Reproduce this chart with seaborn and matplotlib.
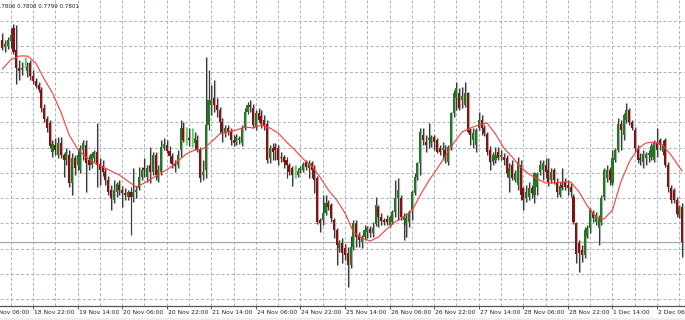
import numpy as np
import pandas as pd
import matplotlib
matplotlib.use("Agg")
import matplotlib.pyplot as plt
from matplotlib.patches import Rectangle
import seaborn as sns

# ---------------- data ----------------
ohlc_text = "0.7806 0.7808 0.7799 0.7801"

tick_labels = ["18 Nov 06:00", "18 Nov 22:00", "19 Nov 14:00", "20 Nov 06:00",
               "20 Nov 22:00", "21 Nov 14:00", "24 Nov 06:00", "24 Nov 22:00",
               "25 Nov 14:00", "26 Nov 06:00", "26 Nov 22:00", "27 Nov 14:00",
               "28 Nov 06:00", "28 Nov 22:00", "1 Dec 14:00", "2 Dec 06:00"]
tick_bars = [-5, 11, 27, 43, 59, 75, 91, 107, 123, 139, 155, 171, 187, 203, 219, 235]

opens = [
    0.8003, 0.7996, 0.7997, 0.8002, 0.8015, 0.7993, 0.7975, 0.7973, 0.7978, 0.7972,
    0.7980, 0.7967, 0.7962, 0.7958, 0.7953, 0.7935, 0.7924, 0.7920, 0.7891, 0.7898,
    0.7888, 0.7900, 0.7888, 0.7883, 0.7888, 0.7860, 0.7885, 0.7878, 0.7873, 0.7893,
    0.7898, 0.7883, 0.7878, 0.7885, 0.7891, 0.7879, 0.7877, 0.7871, 0.7863, 0.7853,
    0.7843, 0.7851, 0.7858, 0.7853, 0.7850, 0.7846, 0.7851, 0.7846, 0.7851, 0.7855,
    0.7866, 0.7875, 0.7866, 0.7878, 0.7871, 0.7888, 0.7865, 0.7871, 0.7895, 0.7898,
    0.7892, 0.7887, 0.7879, 0.7878, 0.7893, 0.7915, 0.7908, 0.7905, 0.7906, 0.7900,
    0.7903, 0.7893, 0.7868, 0.7873, 0.7918, 0.7938, 0.7945, 0.7938, 0.7933, 0.7921,
    0.7910, 0.7915, 0.7911, 0.7903, 0.7901, 0.7903, 0.7900, 0.7915, 0.7931, 0.7938,
    0.7935, 0.7916, 0.7930, 0.7927, 0.7923, 0.7919, 0.7885, 0.7895, 0.7896, 0.7895,
    0.7885, 0.7886, 0.7883, 0.7878, 0.7875, 0.7873, 0.7868, 0.7873, 0.7873, 0.7881,
    0.7875, 0.7880, 0.7875, 0.7865, 0.7823, 0.7823, 0.7830, 0.7840, 0.7838, 0.7823,
    0.7813, 0.7795, 0.7800, 0.7795, 0.7790, 0.7778, 0.7796, 0.7820, 0.7808, 0.7801,
    0.7806, 0.7811, 0.7814, 0.7810, 0.7819, 0.7836, 0.7826, 0.7823, 0.7824, 0.7818,
    0.7821, 0.7831, 0.7845, 0.7845, 0.7823, 0.7818, 0.7821, 0.7833, 0.7850, 0.7866,
    0.7880, 0.7908, 0.7901, 0.7903, 0.7900, 0.7906, 0.7903, 0.7895, 0.7893, 0.7893,
    0.7881, 0.7896, 0.7930, 0.7945, 0.7950, 0.7943, 0.7938, 0.7950, 0.7913, 0.7903,
    0.7898, 0.7915, 0.7923, 0.7915, 0.7909, 0.7893, 0.7881, 0.7883, 0.7891, 0.7886,
    0.7886, 0.7885, 0.7865, 0.7878, 0.7863, 0.7858, 0.7878, 0.7855, 0.7845, 0.7846,
    0.7855, 0.7848, 0.7856, 0.7871, 0.7873, 0.7878, 0.7873, 0.7863, 0.7873, 0.7861,
    0.7848, 0.7858, 0.7861, 0.7858, 0.7856, 0.7846, 0.7820, 0.7800, 0.7793, 0.7788,
    0.7807, 0.7815, 0.7830, 0.7821, 0.7815, 0.7821, 0.7846, 0.7865, 0.7873, 0.7860,
    0.7883, 0.7893, 0.7919, 0.7908, 0.7923, 0.7933, 0.7921, 0.7913, 0.7895, 0.7885,
    0.7881, 0.7885, 0.7888, 0.7886, 0.7883, 0.7900, 0.7903, 0.7891, 0.7903, 0.7878,
    0.7855, 0.7853, 0.7843, 0.7828, 0.7836]

highs = [
    0.8010, 0.8003, 0.8006, 0.8015, 0.8019, 0.8018, 0.7983, 0.7981, 0.7986, 0.7981,
    0.7983, 0.7973, 0.7965, 0.7961, 0.7956, 0.7939, 0.7927, 0.7923, 0.7903, 0.7905,
    0.7906, 0.7906, 0.7890, 0.7895, 0.7893, 0.7890, 0.7888, 0.7893, 0.7898, 0.7903,
    0.7903, 0.7888, 0.7891, 0.7893, 0.7920, 0.7885, 0.7883, 0.7875, 0.7867, 0.7858,
    0.7863, 0.7861, 0.7863, 0.7857, 0.7855, 0.7853, 0.7856, 0.7875, 0.7857, 0.7876,
    0.7876, 0.7885, 0.7878, 0.7896, 0.7891, 0.7891, 0.7878, 0.7903, 0.7905, 0.7903,
    0.7897, 0.7890, 0.7883, 0.7893, 0.7923, 0.7921, 0.7916, 0.7915, 0.7915, 0.7911,
    0.7908, 0.7896, 0.7883, 0.7986, 0.7973, 0.7958, 0.7963, 0.7945, 0.7936, 0.7925,
    0.7918, 0.7918, 0.7915, 0.7908, 0.7909, 0.7907, 0.7918, 0.7935, 0.7941, 0.7943,
    0.7939, 0.7933, 0.7935, 0.7933, 0.7928, 0.7923, 0.7898, 0.7900, 0.7900, 0.7898,
    0.7891, 0.7888, 0.7886, 0.7880, 0.7877, 0.7878, 0.7875, 0.7877, 0.7881, 0.7883,
    0.7883, 0.7882, 0.7878, 0.7867, 0.7825, 0.7848, 0.7848, 0.7843, 0.7840, 0.7825,
    0.7815, 0.7803, 0.7805, 0.7799, 0.7796, 0.7807, 0.7823, 0.7823, 0.7811, 0.7808,
    0.7818, 0.7817, 0.7817, 0.7821, 0.7846, 0.7838, 0.7830, 0.7825, 0.7828, 0.7828,
    0.7833, 0.7863, 0.7865, 0.7848, 0.7830, 0.7830, 0.7833, 0.7853, 0.7870, 0.7881,
    0.7915, 0.7915, 0.7908, 0.7920, 0.7908, 0.7908, 0.7905, 0.7898, 0.7901, 0.7898,
    0.7898, 0.7931, 0.7953, 0.7961, 0.7955, 0.7956, 0.7961, 0.7951, 0.7915, 0.7915,
    0.7915, 0.7931, 0.7928, 0.7918, 0.7911, 0.7897, 0.7891, 0.7896, 0.7896, 0.7893,
    0.7890, 0.7888, 0.7880, 0.7883, 0.7873, 0.7886, 0.7883, 0.7856, 0.7858, 0.7861,
    0.7858, 0.7871, 0.7871, 0.7883, 0.7883, 0.7885, 0.7885, 0.7875, 0.7875, 0.7865,
    0.7861, 0.7875, 0.7865, 0.7863, 0.7860, 0.7849, 0.7821, 0.7803, 0.7798, 0.7816,
    0.7818, 0.7835, 0.7833, 0.7831, 0.7828, 0.7848, 0.7875, 0.7878, 0.7876, 0.7893,
    0.7895, 0.7925, 0.7923, 0.7930, 0.7940, 0.7935, 0.7923, 0.7916, 0.7898, 0.7890,
    0.7893, 0.7891, 0.7893, 0.7900, 0.7903, 0.7915, 0.7905, 0.7903, 0.7905, 0.7881,
    0.7858, 0.7855, 0.7846, 0.7838, 0.7840]

lows = [
    0.7993, 0.7991, 0.7994, 0.7995, 0.7989, 0.7959, 0.7963, 0.7968, 0.7975, 0.7966,
    0.7963, 0.7959, 0.7955, 0.7951, 0.7931, 0.7921, 0.7911, 0.7895, 0.7886, 0.7888,
    0.7885, 0.7885, 0.7866, 0.7878, 0.7856, 0.7848, 0.7868, 0.7873, 0.7870, 0.7883,
    0.7851, 0.7873, 0.7875, 0.7881, 0.7856, 0.7858, 0.7867, 0.7858, 0.7848, 0.7833,
    0.7840, 0.7846, 0.7848, 0.7836, 0.7843, 0.7843, 0.7808, 0.7841, 0.7845, 0.7853,
    0.7863, 0.7866, 0.7861, 0.7860, 0.7868, 0.7863, 0.7861, 0.7868, 0.7893, 0.7890,
    0.7880, 0.7875, 0.7871, 0.7875, 0.7886, 0.7901, 0.7898, 0.7897, 0.7896, 0.7893,
    0.7891, 0.7861, 0.7863, 0.7865, 0.7913, 0.7928, 0.7931, 0.7926, 0.7910, 0.7901,
    0.7906, 0.7908, 0.7898, 0.7897, 0.7898, 0.7899, 0.7897, 0.7913, 0.7929, 0.7931,
    0.7915, 0.7913, 0.7921, 0.7915, 0.7913, 0.7880, 0.7880, 0.7883, 0.7883, 0.7878,
    0.7881, 0.7875, 0.7865, 0.7868, 0.7857, 0.7865, 0.7866, 0.7870, 0.7871, 0.7873,
    0.7865, 0.7865, 0.7850, 0.7819, 0.7811, 0.7818, 0.7828, 0.7833, 0.7821, 0.7805,
    0.7778, 0.7791, 0.7780, 0.7783, 0.7756, 0.7775, 0.7793, 0.7796, 0.7796, 0.7795,
    0.7803, 0.7805, 0.7806, 0.7806, 0.7817, 0.7816, 0.7818, 0.7818, 0.7818, 0.7816,
    0.7819, 0.7826, 0.7823, 0.7823, 0.7803, 0.7806, 0.7816, 0.7823, 0.7848, 0.7863,
    0.7868, 0.7898, 0.7891, 0.7895, 0.7896, 0.7893, 0.7890, 0.7888, 0.7883, 0.7880,
    0.7878, 0.7893, 0.7926, 0.7933, 0.7933, 0.7935, 0.7936, 0.7910, 0.7898, 0.7895,
    0.7891, 0.7913, 0.7908, 0.7907, 0.7888, 0.7873, 0.7878, 0.7880, 0.7883, 0.7883,
    0.7878, 0.7866, 0.7851, 0.7863, 0.7861, 0.7853, 0.7843, 0.7833, 0.7841, 0.7843,
    0.7845, 0.7840, 0.7848, 0.7868, 0.7863, 0.7865, 0.7857, 0.7860, 0.7859, 0.7846,
    0.7846, 0.7853, 0.7853, 0.7848, 0.7846, 0.7819, 0.7780, 0.7771, 0.7781, 0.7785,
    0.7805, 0.7810, 0.7821, 0.7818, 0.7798, 0.7818, 0.7843, 0.7861, 0.7858, 0.7858,
    0.7881, 0.7891, 0.7893, 0.7903, 0.7920, 0.7918, 0.7913, 0.7891, 0.7880, 0.7878,
    0.7875, 0.7878, 0.7881, 0.7883, 0.7881, 0.7886, 0.7893, 0.7888, 0.7876, 0.7851,
    0.7840, 0.7840, 0.7826, 0.7825, 0.7786]

closes = [
    0.7995, 0.7999, 0.8003, 0.8008, 0.7991, 0.7975, 0.7972, 0.7975, 0.7978, 0.7976,
    0.7967, 0.7962, 0.7957, 0.7953, 0.7935, 0.7924, 0.7915, 0.7897, 0.7899, 0.7893,
    0.7900, 0.7888, 0.7883, 0.7891, 0.7860, 0.7885, 0.7875, 0.7888, 0.7895, 0.7900,
    0.7880, 0.7878, 0.7889, 0.7891, 0.7878, 0.7873, 0.7871, 0.7863, 0.7851, 0.7845,
    0.7853, 0.7859, 0.7853, 0.7850, 0.7848, 0.7851, 0.7846, 0.7851, 0.7853, 0.7866,
    0.7873, 0.7873, 0.7875, 0.7871, 0.7888, 0.7868, 0.7873, 0.7896, 0.7899, 0.7892,
    0.7887, 0.7879, 0.7877, 0.7888, 0.7915, 0.7903, 0.7908, 0.7903, 0.7906, 0.7905,
    0.7893, 0.7865, 0.7871, 0.7918, 0.7943, 0.7943, 0.7938, 0.7933, 0.7921, 0.7911,
    0.7915, 0.7911, 0.7903, 0.7900, 0.7906, 0.7905, 0.7915, 0.7931, 0.7938, 0.7936,
    0.7918, 0.7930, 0.7923, 0.7919, 0.7917, 0.7883, 0.7895, 0.7891, 0.7893, 0.7883,
    0.7886, 0.7881, 0.7878, 0.7871, 0.7868, 0.7873, 0.7872, 0.7875, 0.7879, 0.7876,
    0.7880, 0.7873, 0.7863, 0.7821, 0.7820, 0.7830, 0.7840, 0.7836, 0.7825, 0.7813,
    0.7798, 0.7800, 0.7790, 0.7788, 0.7778, 0.7796, 0.7820, 0.7806, 0.7803, 0.7806,
    0.7813, 0.7815, 0.7810, 0.7815, 0.7838, 0.7826, 0.7822, 0.7821, 0.7821, 0.7826,
    0.7831, 0.7845, 0.7853, 0.7826, 0.7827, 0.7825, 0.7831, 0.7851, 0.7866, 0.7880,
    0.7911, 0.7903, 0.7898, 0.7905, 0.7906, 0.7901, 0.7891, 0.7891, 0.7895, 0.7886,
    0.7896, 0.7930, 0.7950, 0.7955, 0.7935, 0.7947, 0.7950, 0.7911, 0.7908, 0.7910,
    0.7913, 0.7923, 0.7915, 0.7910, 0.7891, 0.7881, 0.7888, 0.7888, 0.7885, 0.7888,
    0.7883, 0.7870, 0.7875, 0.7865, 0.7870, 0.7881, 0.7848, 0.7843, 0.7851, 0.7855,
    0.7850, 0.7870, 0.7869, 0.7878, 0.7880, 0.7871, 0.7861, 0.7871, 0.7863, 0.7851,
    0.7857, 0.7855, 0.7856, 0.7855, 0.7851, 0.7821, 0.7789, 0.7790, 0.7788, 0.7813,
    0.7815, 0.7833, 0.7825, 0.7828, 0.7825, 0.7845, 0.7873, 0.7873, 0.7863, 0.7885,
    0.7893, 0.7919, 0.7913, 0.7928, 0.7933, 0.7921, 0.7915, 0.7895, 0.7883, 0.7883,
    0.7889, 0.7889, 0.7890, 0.7897, 0.7900, 0.7893, 0.7898, 0.7898, 0.7878, 0.7856,
    0.7843, 0.7843, 0.7829, 0.7836, 0.7801]

ma_bars = list(range(0, 244, 3)) + [244]
ma_values = [
    0.7974, 0.7983, 0.7987, 0.7987, 0.7980, 0.7964, 0.7950, 0.7931, 0.7908, 0.7894,
    0.7886, 0.7880, 0.7876, 0.7872, 0.7868, 0.7862, 0.7856, 0.7860, 0.7865, 0.7870,
    0.7875, 0.7882, 0.7889, 0.7893, 0.7894, 0.7901, 0.7909, 0.7911, 0.7913, 0.7916,
    0.7915, 0.7918, 0.7915, 0.7910, 0.7901, 0.7893, 0.7884, 0.7877, 0.7866, 0.7853,
    0.7843, 0.7830, 0.7811, 0.7805, 0.7802, 0.7806, 0.7814, 0.7821, 0.7826, 0.7832,
    0.7848, 0.7862, 0.7874, 0.7887, 0.7900, 0.7911, 0.7915, 0.7918, 0.7920, 0.7909,
    0.7895, 0.7886, 0.7876, 0.7869, 0.7864, 0.7860, 0.7860, 0.7861, 0.7861, 0.7851,
    0.7837, 0.7826, 0.7824, 0.7833, 0.7861, 0.7881, 0.7894, 0.7900, 0.7901, 0.7898,
    0.7888, 0.7876, 0.7872]

# ---------------- figure ----------------
sns.set_theme(style="white")
plt.rcParams['font.family'] = ['DejaVu Sans']
plt.rcParams['lines.scale_dashes'] = False

W, H = 685, 320
fig = plt.figure(figsize=(W / 100, H / 100), dpi=100)
fig.patch.set_facecolor('white')
ax = fig.add_axes([0, 14 / H, 1, 306 / H])
ax.set_facecolor('white')

PX_PER_BAR = 2.786
X0 = 2.35
ax.set_xlim(-X0 / PX_PER_BAR, (W - X0) / PX_PER_BAR)
ax.set_ylim(0.7737, 0.8043)

# grid
grid_kw = dict(color='#9ea8b8', linewidth=0.6, linestyle=(0, (2.2, 1.5)), zorder=1)
for i in range(12):
    ax.axhline(0.8022 - 0.00253 * i, **grid_kw)
for b in range(3, 245, 8):
    ax.axvline(b, **grid_kw)

df = pd.DataFrame({"open": opens, "high": highs, "low": lows, "close": closes})
df["bar"] = np.arange(len(df))
up = (df["close"] > df["open"]).to_numpy()
doji = (df["close"] == df["open"]).to_numpy()

# bid line
ax.axhline(df["close"].iloc[-1], color='#a9a9a9', linewidth=0.9, zorder=2)

# soft shadow of the wicks (the reference is a downscaled screenshot)
ax.vlines(df["bar"] + 0.35, df["low"], df["high"], colors='#b8b8b8',
          linewidth=0.9, zorder=2.5)
# wicks
wick_cols = np.where(doji, '#33ee33', '#3a3a3a')
ax.vlines(df["bar"], df["low"], df["high"], colors=wick_cols, linewidth=0.8, zorder=3)

# bodies
body = df[~doji]
heights = (body["close"] - body["open"]).abs().clip(lower=0.00009)
bottoms = body[["open", "close"]].min(axis=1)
cols = np.where(up[~doji], '#1f7a1f', '#8a1010')
ax.bar(body["bar"], heights, bottom=bottoms, width=0.74, color=cols,
       linewidth=0, zorder=4)

# moving average
sns.lineplot(x=ma_bars, y=ma_values, ax=ax, color='#ff3a3a', linewidth=0.8,
             zorder=5, sort=False)

# axes cosmetics
for s in ['top', 'left', 'right']:
    ax.spines[s].set_visible(False)
ax.spines['bottom'].set_color('#555555')
ax.spines['bottom'].set_linewidth(0.9)
vis_ticks = [t for t in tick_bars if t >= 0]
ax.set_xticks(vis_ticks)
ax.set_xticklabels([])
ax.set_yticks([])
ax.tick_params(axis='x', length=2.4, width=0.7, color='#555555', direction='out',
               bottom=True, labelbottom=False)
ax.set_xlabel('')
ax.set_ylabel('')

# time labels (left aligned on tick, like MT4)
for b, lab in zip(tick_bars, tick_labels):
    xp = X0 + PX_PER_BAR * b + 1.0
    fig.text(xp / W, (H - 312.5) / H, lab, ha='left', va='center',
             fontsize=4.3, color='#222222')

# OHLC text top-left
fig.text(-3.6 / W, (H - 6) / H, ohlc_text, ha='left', va='center',
         fontsize=4.1, color='#222222')

# bottom window strip
fig.patches.append(Rectangle((0, 0), 1, 2.5 / H, transform=fig.transFigure,
                             facecolor='#eeeeee', edgecolor='none'))

fig.savefig('out.png', dpi=100)
